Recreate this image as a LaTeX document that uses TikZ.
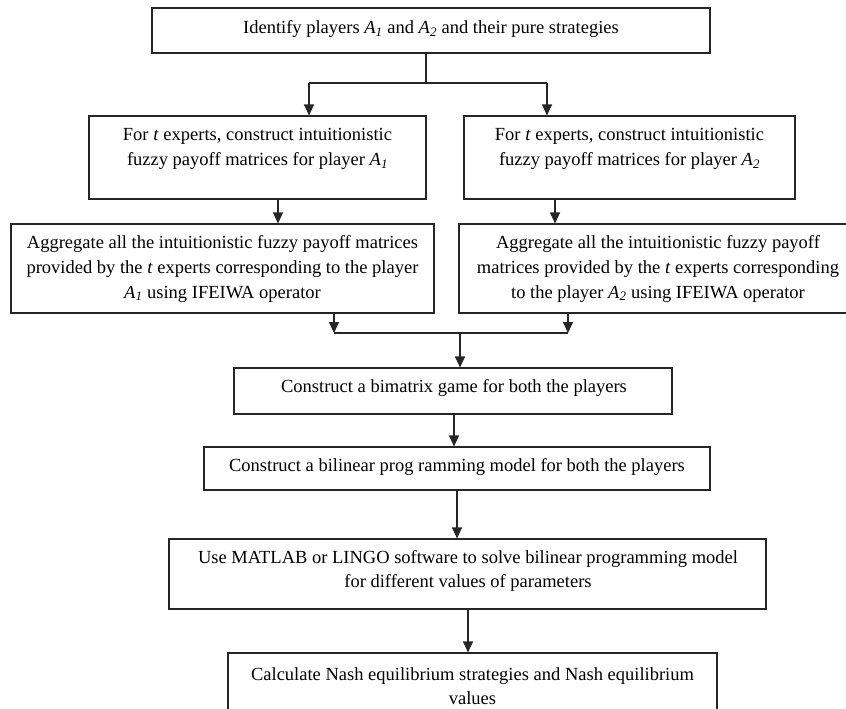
\documentclass[tikz,border=0pt]{standalone}
\usepackage{fontspec}
\setmainfont{Liberation Serif}
\usetikzlibrary{arrows.meta}
\newcommand{\Aone}{\textit{A}\textsubscript{\textit{1}}}
\newcommand{\Atwo}{\textit{A}\textsubscript{\textit{2}}}
\tikzset{
  box/.style={draw=black!85, line width=1.1pt, fill=white, inner sep=0pt},
  txt/.style={align=center, font=\fontsize{18.5}{24.6}\selectfont, inner sep=0pt},
  ln/.style={line width=1.1pt, draw=black!85},
  arr/.style={line width=1.1pt, draw=black!85, -{Triangle[width=10pt,length=11pt]}},
}
\begin{document}
\begin{tikzpicture}[x=1pt,y=-1pt]
\useasboundingbox (0,0) rectangle (846,709);
% boxes
\node[box, minimum width=558pt, minimum height=45pt] (b1) at (431,30.5) {};
\node[box, minimum width=337pt, minimum height=83pt] (b2L) at (257.5,157.5) {};
\node[box, minimum width=331pt, minimum height=83pt] (b2R) at (629.5,157.5) {};
\node[box, minimum width=423pt, minimum height=89pt] (b3L) at (222.5,268.5) {};
\node[box, minimum width=398pt, minimum height=89pt] (b3R) at (658,268.5) {};
\node[box, minimum width=438pt, minimum height=46pt] (b4) at (453,391) {};
\node[box, minimum width=506pt, minimum height=43pt] (b5) at (457,468.5) {};
\node[box, minimum width=597pt, minimum height=70pt] (b6) at (467.5,574) {};
\node[box, minimum width=489pt, minimum height=67pt] (b7) at (472.5,686.5) {};
% texts
\node[txt] (t1) at (431,29) {Identify players \Aone{} and \Atwo{} and their pure strategies};
\node[txt] (t2L) at (257.5,149) {For \textit{t} experts, construct intuitionistic\\fuzzy payoff matrices for player \Aone};
\node[txt] (t2R) at (629.5,149) {For \textit{t} experts, construct intuitionistic\\fuzzy payoff matrices for player \Atwo};
\node[txt] (t3L) at (222.5,269) {Aggregate all the intuitionistic fuzzy payoff matrices\\provided by the \textit{t} experts corresponding to the player\\\Aone{} using IFEIWA operator};
\node[txt] (t3R) at (658,269) {Aggregate all the intuitionistic fuzzy payoff\\matrices provided by the \textit{t} experts corresponding\\to the player \Atwo{} using IFEIWA operator};
\node[txt] (t4) at (454,388) {Construct a bimatrix game for both the players};
\node[txt] (t5) at (457,467) {Construct a bilinear prog ramming model for both the players};
\node[txt] (t6) at (468,571) {Use MATLAB or LINGO software to solve bilinear programming model\\for different values of parameters};
\node[txt] (t7) at (472.5,686) {Calculate Nash equilibrium strategies and Nash equilibrium\\values};
% junction coordinates
\coordinate (j0) at (426,83);
\coordinate (jL) at (309,83);
\coordinate (jR) at (547,83);
\coordinate (c1) at (278,0);
\coordinate (c2) at (555,0);
\coordinate (m1) at (334,333);
\coordinate (m2) at (568,333);
\coordinate (m0) at (460,333);
\coordinate (c3) at (454,0);
\coordinate (c4) at (457,0);
\coordinate (c5) at (468,0);
% connectors
\draw[ln] (b1.south -| j0) -- (j0);
\draw[ln] (jL) -- (jR);
\draw[arr] (jL) -- (b2L.north -| jL);
\draw[arr] (jR) -- (b2R.north -| jR);
\draw[arr] (b2L.south -| c1) -- (b3L.north -| c1);
\draw[arr] (b2R.south -| c2) -- (b3R.north -| c2);
\draw[arr] (b3L.south -| m1) -- (m1);
\draw[arr] (b3R.south -| m2) -- (m2);
\draw[ln] (m1) -- (m2);
\draw[arr] (m0) -- (b4.north -| m0);
\draw[arr] (b4.south -| c3) -- (b5.north -| c3);
\draw[arr] (b5.south -| c4) -- (b6.north -| c4);
\draw[arr] (b6.south -| c5) -- (b7.north -| c5);
\end{tikzpicture}
\end{document}
